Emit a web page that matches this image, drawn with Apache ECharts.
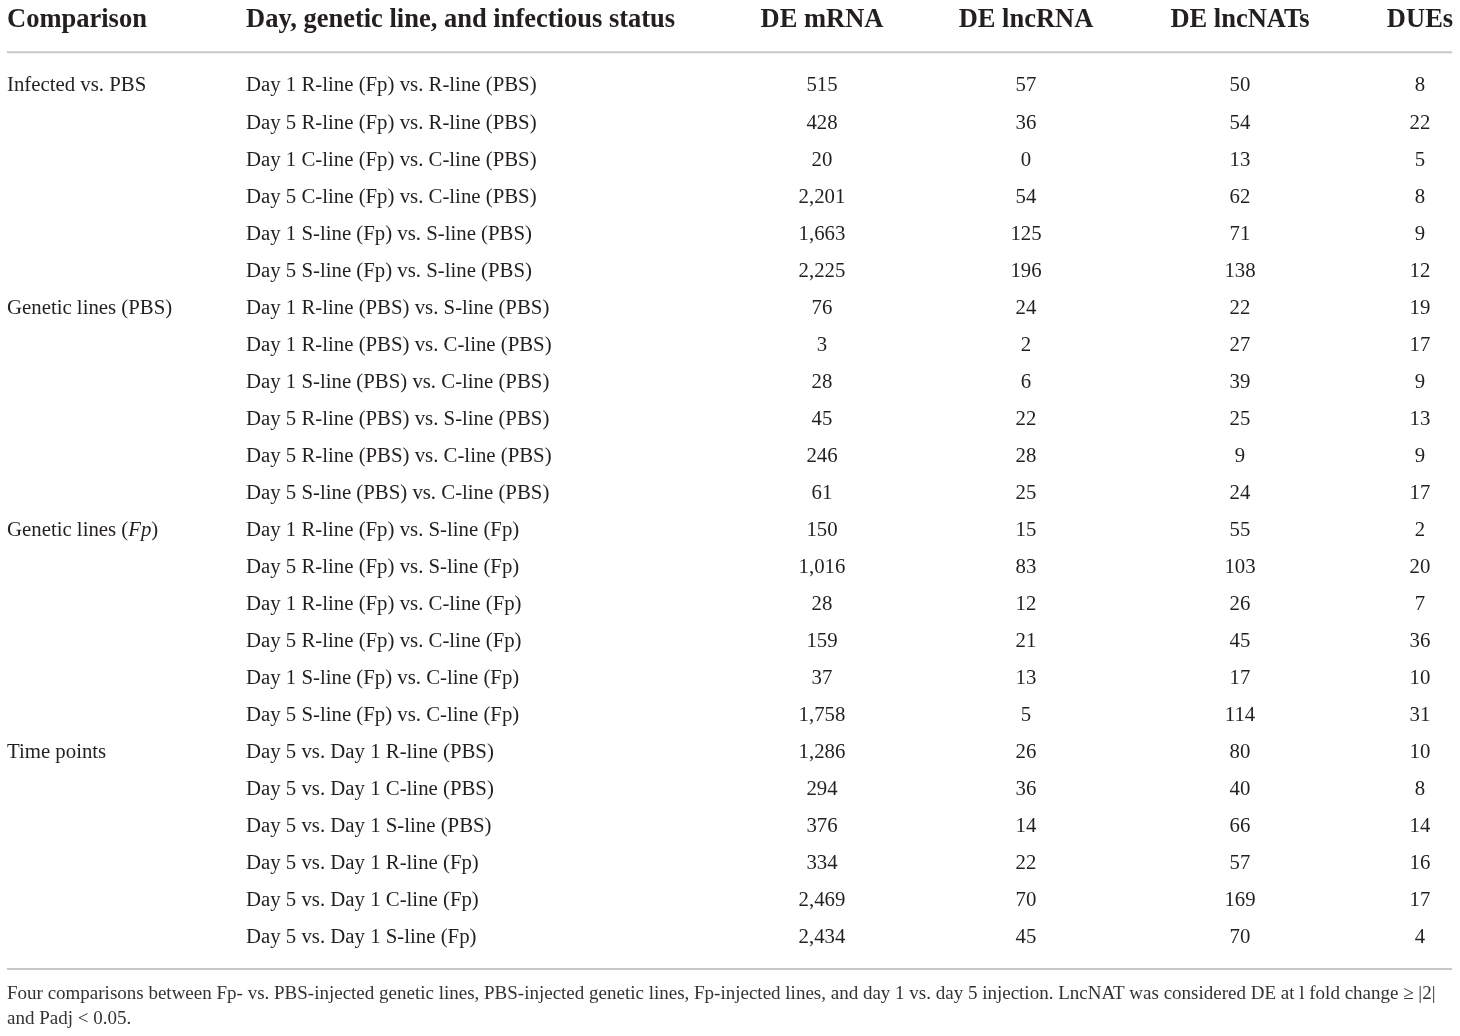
<!DOCTYPE html>
<html>
<head>
<meta charset="utf-8">
<script src="https://cdn.jsdelivr.net/npm/echarts@6/dist/echarts.min.js"></script>
<style>
html, body { margin: 0; padding: 0; background: #fff; }
#main { width: 1460px; height: 1036px; }
</style>
</head>
<body>
<div id="main"></div>
<script>
// table data
var headers = ['Comparison', 'Day, genetic line, and infectious status', 'DE mRNA', 'DE lncRNA', 'DE lncNATs', 'DUEs'];
var groups = ['Infected vs. PBS', 'Genetic lines (PBS)', 'Genetic lines ({i|Fp})', 'Time points'];
var comparisons = [
    'Day 1 R-line (Fp) vs. R-line (PBS)', 'Day 5 R-line (Fp) vs. R-line (PBS)',
    'Day 1 C-line (Fp) vs. C-line (PBS)', 'Day 5 C-line (Fp) vs. C-line (PBS)',
    'Day 1 S-line (Fp) vs. S-line (PBS)', 'Day 5 S-line (Fp) vs. S-line (PBS)',
    'Day 1 R-line (PBS) vs. S-line (PBS)', 'Day 1 R-line (PBS) vs. C-line (PBS)',
    'Day 1 S-line (PBS) vs. C-line (PBS)', 'Day 5 R-line (PBS) vs. S-line (PBS)',
    'Day 5 R-line (PBS) vs. C-line (PBS)', 'Day 5 S-line (PBS) vs. C-line (PBS)',
    'Day 1 R-line (Fp) vs. S-line (Fp)', 'Day 5 R-line (Fp) vs. S-line (Fp)',
    'Day 1 R-line (Fp) vs. C-line (Fp)', 'Day 5 R-line (Fp) vs. C-line (Fp)',
    'Day 1 S-line (Fp) vs. C-line (Fp)', 'Day 5 S-line (Fp) vs. C-line (Fp)',
    'Day 5 vs. Day 1 R-line (PBS)', 'Day 5 vs. Day 1 C-line (PBS)',
    'Day 5 vs. Day 1 S-line (PBS)', 'Day 5 vs. Day 1 R-line (Fp)',
    'Day 5 vs. Day 1 C-line (Fp)', 'Day 5 vs. Day 1 S-line (Fp)'
];
var deMrna = [515, 428, 20, 2201, 1663, 2225, 76, 3, 28, 45, 246, 61, 150, 1016, 28, 159, 37, 1758, 1286, 294, 376, 334, 2469, 2434];
var deLncRna = [57, 36, 0, 54, 125, 196, 24, 2, 6, 22, 28, 25, 15, 83, 12, 21, 13, 5, 26, 36, 14, 22, 70, 45];
var deLncNats = [50, 54, 13, 62, 71, 138, 22, 27, 39, 25, 9, 24, 55, 103, 26, 45, 17, 114, 80, 40, 66, 57, 169, 70];
var dues = [8, 22, 5, 8, 9, 12, 19, 17, 9, 13, 9, 17, 2, 20, 7, 36, 10, 31, 10, 8, 14, 16, 17, 4];
var caption = 'Four comparisons between Fp- vs. PBS-injected genetic lines, PBS-injected genetic lines, Fp-injected lines, and day 1 vs. day 5 injection. LncNAT was considered DE at l fold change \u2265 |2|\nand Padj < 0.05.';

// layout (pixels / row units)
var colX = [7, 246, 822, 1026, 1240, 1420];
var colAlign = ['left', 'left', 'center', 'center', 'center', 'center'];
var rowsPerGroup = 6;
var headerRow = -1.78;
var rules = [-0.86, 23.89];
var FONT = '"Liberation Serif", "DejaVu Serif", serif';
var INK = '#231f20';

function fmt(v) { return v.toLocaleString('en-US'); }

// cells: [col, row, text, isHeader]
var cells = [];
headers.forEach(function(h, c) { cells.push([c, headerRow, h, 1]); });
groups.forEach(function(g, i) { cells.push([0, i * rowsPerGroup, g, 0]); });
comparisons.forEach(function(t, r) {
    cells.push([1, r, t, 0]);
    cells.push([2, r, fmt(deMrna[r]), 0]);
    cells.push([3, r, fmt(deLncRna[r]), 0]);
    cells.push([4, r, fmt(deLncNats[r]), 0]);
    cells.push([5, r, fmt(dues[r]), 0]);
});

var chart = echarts.init(document.getElementById('main'));
chart.setOption({
    backgroundColor: '#fff',
    animation: false,
    title: {
        text: caption,
        left: 7,
        top: 982,
        padding: 0,
        textStyle: { fontFamily: FONT, fontSize: 19, fontWeight: 'normal', color: '#333', lineHeight: 25 }
    },
    grid: { left: 0, right: 0, top: 0, bottom: 0 },
    xAxis: { type: 'value', min: 0, max: 1460, show: false },
    yAxis: { type: 'value', inverse: true, min: -84 / 37.04, max: (1036 - 84) / 37.04, show: false },
    series: [{
        type: 'custom',
        data: rules.map(function(y) { return [y]; }),
        renderItem: function(params, api) {
            var a = api.coord([7, api.value(0)]);
            var b = api.coord([1452, api.value(0)]);
            return {
                type: 'line',
                shape: { x1: a[0], y1: a[1], x2: b[0], y2: b[1] },
                style: { stroke: '#c8c8c8', lineWidth: 2 }
            };
        }
    }, {
        type: 'custom',
        data: cells,
        renderItem: function(params, api) {
            var c = api.value(0);
            var item = cells[params.dataIndex];
            var p = api.coord([colX[c], api.value(1)]);
            var head = item[3] === 1;
            return {
                type: 'text',
                x: p[0],
                y: p[1] + 2,
                style: {
                    text: item[2],
                    fill: INK,
                    font: (head ? 'bold 26.5px ' : '20.8px ') + FONT,
                    align: colAlign[c],
                    verticalAlign: 'middle',
                    rich: { i: { fontStyle: 'italic', fontFamily: FONT, fontSize: 20.8, fill: INK } }
                }
            };
        }
    }]
});
</script>
</body>
</html>
